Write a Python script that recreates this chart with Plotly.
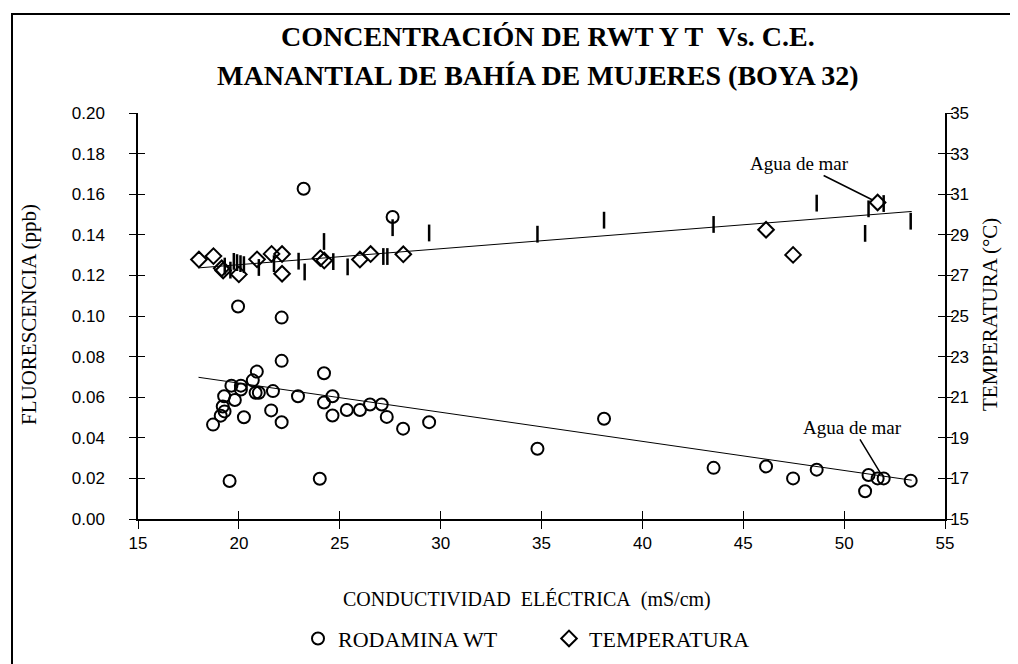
import plotly.graph_objects as go

# ---------------- data ----------------
rwt_x = [18.72, 19.10, 19.29, 19.20, 19.27, 19.63, 19.80, 20.10, 20.10, 19.54,
         20.25, 20.69, 20.89, 20.83, 20.99, 21.60, 21.69, 22.12, 22.12, 22.93,
         24.01, 24.22, 24.22, 24.64, 24.64, 25.35, 26.00, 26.50, 27.08, 27.33,
         28.14, 29.43, 34.80, 38.10, 43.53, 46.13, 47.47, 48.64, 51.04, 51.21,
         51.66, 51.96, 53.30, 19.96, 22.12, 23.21, 27.62]
rwt_y = [0.0465, 0.0509, 0.0530, 0.0554, 0.0605, 0.0657, 0.0586, 0.0657, 0.0638, 0.0187,
         0.0501, 0.0683, 0.0726, 0.0622, 0.0622, 0.0535, 0.0630, 0.0779, 0.0477, 0.0605,
         0.0198, 0.0718, 0.0574, 0.0605, 0.0510, 0.0537, 0.0537, 0.0564, 0.0564, 0.0503,
         0.0445, 0.0477, 0.0346, 0.0494, 0.0252, 0.0259, 0.0200, 0.0243, 0.0137, 0.0217,
         0.0200, 0.0200, 0.0189, 0.1047, 0.0992, 0.1627, 0.1488]

temp_x = [18.02, 18.74, 19.15, 19.22, 20.00, 20.90, 21.62, 22.14, 22.14, 24.04,
          24.23, 26.00, 26.53, 28.15, 46.13, 47.47, 51.66]
temp_y = [27.78, 27.95, 27.35, 27.24, 27.05, 27.79, 28.06, 28.05, 27.08, 27.85,
          27.73, 27.78, 28.05, 28.04, 29.25, 28.01, 30.59]

tmark_x = [19.30, 19.58, 19.75, 19.91, 20.08, 20.25, 20.99, 21.74, 22.96, 23.26,
           24.22, 24.68, 25.39, 27.16, 27.36, 27.62, 29.43, 34.80, 38.10, 43.53,
           48.64, 51.04, 51.21, 51.96, 53.30]
tmark_y = [27.46, 27.26, 27.69, 27.63, 27.58, 27.53, 27.39, 27.58, 27.70, 27.17,
           28.67, 27.68, 27.42, 27.93, 27.93, 29.35, 29.09, 29.03, 29.72, 29.51,
           30.56, 29.07, 30.28, 30.54, 29.67]

trend_x = [18.0, 53.35]
rwt_trend = [0.0698, 0.0191]
temp_trend = [27.37, 30.15]

x_ticks = [15, 20, 25, 30, 35, 40, 45, 50, 55]
left_ticks = [0.00, 0.02, 0.04, 0.06, 0.08, 0.10, 0.12, 0.14, 0.16, 0.18, 0.20]
left_labels = ["%.2f" % v for v in left_ticks]
right_ticks = [15, 17, 19, 21, 23, 25, 27, 29, 31, 33, 35]

title_1 = "CONCENTRACIÓN DE RWT Y T\u00a0 Vs. C.E."
title_2 = "MANANTIAL DE BAHÍA DE MUJERES (BOYA 32)"
x_title = "CONDUCTIVIDAD\u00a0 ELÉCTRICA\u00a0 (mS/cm)"
y_title = "FLUORESCENCIA (ppb)"
y2_title = "TEMPERATURA (°C)"

# ---------------- layout geometry ----------------
W, H = 1018, 664
L, R, T, B = 130, 81, 105, 145
pw, ph = W - L - R, H - T - B


def px(xp):
    return (xp - L) / pw


def py(yp):
    return (H - B - yp) / ph


SERIF = "Liberation Serif"
SANS = "Liberation Sans"
BLACK = "black"

fig = go.Figure()

fig.add_trace(go.Scatter(
    x=trend_x, y=rwt_trend, mode="lines", line=dict(color=BLACK, width=1),
    showlegend=False, hoverinfo="skip", xaxis="x", yaxis="y"))
fig.add_trace(go.Scatter(
    x=trend_x, y=temp_trend, mode="lines", line=dict(color=BLACK, width=1),
    showlegend=False, hoverinfo="skip", xaxis="x", yaxis="y2"))

fig.add_trace(go.Scatter(
    x=rwt_x, y=rwt_y, mode="markers", name="RODAMINA WT",
    marker=dict(symbol="circle-open", size=12, color=BLACK, line=dict(width=2, color=BLACK)),
    xaxis="x", yaxis="y"))
fig.add_trace(go.Scatter(
    x=temp_x, y=temp_y, mode="markers", name="TEMPERATURA",
    marker=dict(symbol="diamond-open", size=12, color=BLACK, line=dict(width=2, color=BLACK)),
    xaxis="x", yaxis="y2"))
fig.add_trace(go.Scatter(
    x=tmark_x, y=tmark_y, mode="markers", name="",
    marker=dict(symbol="line-ns-open", size=12, color=BLACK, line=dict(width=2.5, color=BLACK)),
    showlegend=False, xaxis="x", yaxis="y2"))

# dummy traces so the extra tick overlay axes are drawn
fig.add_trace(go.Scatter(x=[None], y=[None], showlegend=False, hoverinfo="skip",
                         xaxis="x2", yaxis="y3"))
fig.add_trace(go.Scatter(x=[None], y=[None], showlegend=False, hoverinfo="skip",
                         xaxis="x", yaxis="y4"))

axis_common = dict(showgrid=False, zeroline=False, color=BLACK, tickcolor=BLACK,
                   linecolor=BLACK)

fig.update_layout(
    width=W, height=H,
    margin=dict(l=L, r=R, t=T, b=B, pad=0),
    paper_bgcolor="white", plot_bgcolor="white",
    font=dict(family=SANS, color=BLACK, size=16),
    xaxis=dict(range=[15, 55], tickvals=x_ticks, ticks="outside", ticklen=8,
               tickwidth=1, showline=True, linewidth=1.5, anchor="y",
               tickfont=dict(family=SANS, size=17), **axis_common),
    xaxis2=dict(range=[15, 55], tickvals=x_ticks, ticks="inside", ticklen=8,
                tickwidth=1, showline=False, overlaying="x", anchor="y",
                showticklabels=False, **axis_common),
    yaxis=dict(range=[0, 0.2], tickvals=left_ticks, ticktext=left_labels,
               ticks="outside", ticklen=7, tickwidth=1, showline=True,
               linewidth=1.5, anchor="x", side="left",
               tickfont=dict(family=SANS, size=17), ticklabelstandoff=21,
               **axis_common),
    # right axis: labelled, ticks drawn inside
    yaxis2=dict(range=[15, 35], tickvals=right_ticks, ticks="inside", ticklen=7,
                tickwidth=1, showline=True, linewidth=1.5, overlaying="y",
                anchor="x", side="right", tickfont=dict(family=SANS, size=17),
                ticklabelstandoff=0, **axis_common),
    yaxis3=dict(range=[0, 0.2], tickvals=left_ticks, ticks="inside", ticklen=7,
                tickwidth=1, showline=False, overlaying="y", anchor="x2",
                side="left", showticklabels=False, **axis_common),
    # right axis: outside half of the crossing ticks
    yaxis4=dict(range=[15, 35], tickvals=right_ticks, ticks="outside", ticklen=7,
                tickwidth=1, showline=False, overlaying="y", anchor="x",
                side="right", showticklabels=False, **axis_common),
    legend=dict(orientation="h", x=px(290), y=py(641), xanchor="left",
                yanchor="middle", font=dict(family=SERIF, size=22, color=BLACK),
                itemwidth=30, entrywidth=206, bgcolor="rgba(0,0,0,0)"),
    showlegend=True,
)

annotations = [
    dict(text="<b>" + title_1 + "</b>", x=px(540), y=py(27), xref="paper", yref="paper",
         showarrow=False, xanchor="center", yanchor="middle",
         font=dict(family=SERIF, size=28, color=BLACK)),
    dict(text="<b>" + title_2 + "</b>", x=px(530), y=py(67), xref="paper", yref="paper",
         showarrow=False, xanchor="center", yanchor="middle",
         font=dict(family=SERIF, size=28, color=BLACK)),
    dict(text=x_title, x=px(519), y=py(601), xref="paper", yref="paper",
         showarrow=False, xanchor="center", yanchor="middle",
         font=dict(family=SERIF, size=20, color=BLACK)),
    dict(text=y_title, x=px(21), y=py(311), xref="paper", yref="paper",
         showarrow=False, xanchor="center", yanchor="middle", textangle=-90,
         font=dict(family=SERIF, size=21, color=BLACK)),
    dict(text=y2_title, x=px(982), y=py(311), xref="paper", yref="paper",
         showarrow=False, xanchor="center", yanchor="middle", textangle=-90,
         font=dict(family=SERIF, size=21, color=BLACK)),
    dict(text="Agua de mar", x=rwt_x[41], y=rwt_y[41], xref="x", yref="y",
         showarrow=True, arrowhead=0, arrowwidth=1.5, arrowcolor=BLACK,
         ax=-31, ay=-51, standoff=5,
         font=dict(family=SERIF, size=19, color=BLACK)),
    dict(text="Agua de mar", x=temp_x[16], y=temp_y[16], xref="x", yref="y2",
         showarrow=True, arrowhead=0, arrowwidth=1.5, arrowcolor=BLACK,
         ax=-78, ay=-39, standoff=5,
         font=dict(family=SERIF, size=19, color=BLACK)),
]
fig.update_layout(annotations=annotations)

fig.add_shape(type="rect", xref="paper", yref="paper",
              x0=px(4), x1=px(1013), y0=py(700), y1=py(4),
              line=dict(color=BLACK, width=2), fillcolor="rgba(0,0,0,0)", layer="below")

fig.write_html("out.html")
